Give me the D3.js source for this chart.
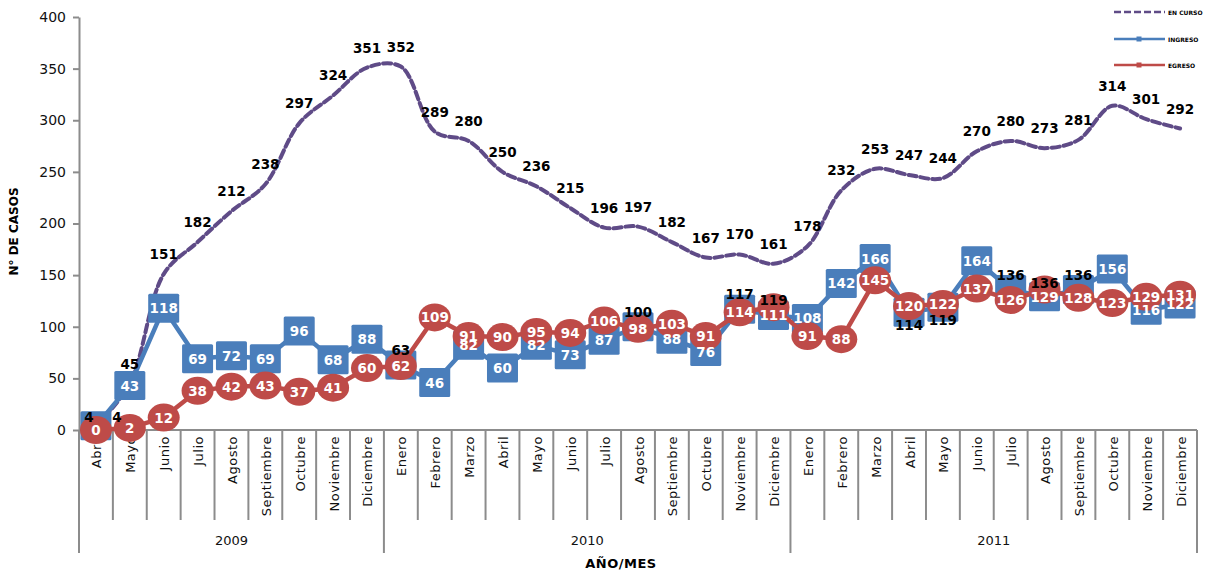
<!DOCTYPE html>
<html>
<head>
<meta charset="utf-8">
<script src="https://cdn.jsdelivr.net/npm/d3@7"></script>
<style>
  html, body { margin: 0; padding: 0; background: #fff; }
  svg { display: block; }
</style>
</head>
<body>
<svg id="chart" width="1212" height="571"></svg>
<script>
// Month / year categories
const years = ["2009", "2010", "2011"];
const months2009 = ["Abril", "Mayo", "Junio", "Julio", "Agosto", "Septiembre", "Octubre", "Noviembre", "Diciembre"];
const months2010 = ["Enero", "Febrero", "Marzo", "Abril", "Mayo", "Junio", "Julio", "Agosto", "Septiembre", "Octubre", "Noviembre", "Diciembre"];
const months2011 = ["Enero", "Febrero", "Marzo", "Abril", "Mayo", "Junio", "Julio", "Agosto", "Septiembre", "Octubre", "Noviembre", "Diciembre"];

// Series values, one per month
const enCurso = [4, 45, 151, 182, 212, 238, 297, 324, 351,
                 352, 289, 280, 250, 236, 215, 196, 197, 182, 167, 170, 161,
                 178, 232, 253, 247, 244, 270, 280, 273, 281, 314, 301, 292];
const ingreso = [4, 43, 118, 69, 72, 69, 96, 68, 88,
                 63, 46, 82, 60, 82, 73, 87, 100, 88, 76, 117, 111,
                 108, 142, 166, 114, 119, 164, 136, 129, 136, 156, 116, 122];
const egreso  = [0, 2, 12, 38, 42, 43, 37, 41, 60,
                 62, 109, 91, 90, 95, 94, 106, 98, 103, 91, 114, 119,
                 91, 88, 145, 120, 122, 137, 126, 136, 128, 123, 129, 131];

const yTicks = [0, 50, 100, 150, 200, 250, 300, 350, 400];
const seriesNames = ["EN CURSO", "INGRESO", "EGRESO"];

// Labels that sit outside their marker in black: index -> placement
const ingresoOuterLabels = { 0: "upleft", 9: "above", 16: "above", 19: "above", 24: "below", 25: "below", 27: "above", 29: "above" };
const egresoOuterLabels = { 20: "onTop", 28: "onTop" };

const monthGroups = [months2009, months2010, months2011];
const categories = monthGroups.flat();

const colors = { en: "#5f4b87", ing: "#4a7ebb", egr: "#be4b48", axis: "#8c8c8c" };
const labelFont = "'DejaVu Sans', Verdana, sans-serif";

const svg = d3.select("#chart");
const plotLeft = 79, plotRight = 1197, plotTop = 17, zeroY = 430;

const x = d3.scaleBand().domain(d3.range(categories.length)).range([plotLeft, plotRight]);
const y = d3.scaleLinear().domain([0, 400]).range([zeroY, plotTop]);
const cx = i => x(i) + x.bandwidth() / 2;

// Y axis
const yAxis = svg.append("g")
  .attr("transform", `translate(${plotLeft},0)`)
  .call(d3.axisLeft(y).tickValues(yTicks).tickSize(6).tickPadding(7).tickSizeOuter(0));
yAxis.select(".domain").attr("stroke", colors.axis).attr("stroke-width", 2);
yAxis.selectAll(".tick line").attr("stroke", colors.axis).attr("stroke-width", 2);
yAxis.selectAll(".tick text")
  .attr("font-family", labelFont).attr("font-size", 14).attr("fill", "#111");

svg.append("text")
  .attr("transform", `translate(18,${(plotTop + zeroY) / 2 + 8}) rotate(-90)`)
  .attr("text-anchor", "middle")
  .attr("font-family", labelFont).attr("font-weight", "bold").attr("font-size", 12)
  .text("N° DE CASOS");

// X axis: baseline, month cells, year cells
const g = svg.append("g");
g.append("line").attr("x1", plotLeft).attr("x2", plotRight).attr("y1", zeroY).attr("y2", zeroY)
  .attr("stroke", colors.axis).attr("stroke-width", 2);

const yearStart = [];
let acc = 0;
monthGroups.forEach(m => { yearStart.push(acc); acc += m.length; });
const isYearEdge = i => i === 0 || i === categories.length || yearStart.includes(i);

d3.range(categories.length + 1).forEach(i => {
  const px = i < categories.length ? x(i) : x(categories.length - 1) + x.bandwidth();
  g.append("line")
    .attr("x1", px).attr("x2", px)
    .attr("y1", zeroY).attr("y2", isYearEdge(i) ? 553 : 520)
    .attr("stroke", colors.axis).attr("stroke-width", 2);
});

g.selectAll("text.month").data(categories).join("text")
  .attr("class", "month")
  .attr("transform", (d, i) => `translate(${cx(i) + 1},436) rotate(-90)`)
  .attr("text-anchor", "end")
  .attr("dominant-baseline", "central")
  .attr("font-family", "'DejaVu Sans', sans-serif").attr("font-size", 13).attr("letter-spacing", 0.5)
  .attr("fill", "#111")
  .text(d => d);

years.forEach((yr, k) => {
  const a = x(yearStart[k]);
  const b = x(yearStart[k] + monthGroups[k].length - 1) + x.bandwidth();
  g.append("text")
    .attr("x", (a + b) / 2).attr("y", 545)
    .attr("text-anchor", "middle")
    .attr("font-family", "'DejaVu Sans', sans-serif").attr("font-size", 13).attr("fill", "#111")
    .text(yr);
});

svg.append("text")
  .attr("x", 621).attr("y", 568).attr("text-anchor", "middle")
  .attr("font-family", labelFont).attr("font-weight", "bold").attr("font-size", 13)
  .attr("letter-spacing", 0.5)
  .text("AÑO/MES");

// Series lines
const smooth = d3.line().x((d, i) => cx(i)).y(d => y(d)).curve(d3.curveCatmullRom.alpha(0.5));
const straight = d3.line().x((d, i) => cx(i)).y(d => y(d));

svg.append("path").attr("d", smooth(enCurso))
  .attr("fill", "none").attr("stroke", colors.en).attr("stroke-width", 4)
  .attr("stroke-dasharray", "8,4").attr("stroke-linecap", "round");

svg.append("path").attr("d", straight(ingreso))
  .attr("fill", "none").attr("stroke", colors.ing).attr("stroke-width", 4.5)
  .attr("stroke-linejoin", "round");

svg.selectAll("rect.ing").data(ingreso).join("rect")
  .attr("class", "ing")
  .attr("x", (d, i) => cx(i) - 15.5).attr("y", d => y(d) - 14.5)
  .attr("width", 31).attr("height", 29).attr("rx", 1.5)
  .attr("fill", colors.ing);

svg.append("path").attr("d", straight(egreso))
  .attr("fill", "none").attr("stroke", colors.egr).attr("stroke-width", 4.5)
  .attr("stroke-linejoin", "round");

svg.selectAll("ellipse.egr").data(egreso).join("ellipse")
  .attr("class", "egr")
  .attr("cx", (d, i) => cx(i)).attr("cy", d => y(d))
  .attr("rx", 16).attr("ry", 14)
  .attr("fill", colors.egr);

// Data labels
const labels = svg.append("g")
  .attr("font-family", labelFont).attr("font-weight", "bold").attr("font-size", 13.5)
  .attr("text-anchor", "middle").attr("dominant-baseline", "central");

const offsets = { above: [0, -15], below: [0, 13], upleft: [-7, -9], onTop: [0, -7] };

enCurso.forEach((v, i) => {
  const dx = i === 0 ? 21 : 0, dy = i === 0 ? -9 : -20;
  labels.append("text").attr("x", cx(i) + dx).attr("y", y(v) + dy).attr("fill", "#000").text(v);
});

ingreso.forEach((v, i) => {
  const place = ingresoOuterLabels[i];
  const [dx, dy] = place ? offsets[place] : [0, 0];
  labels.append("text").attr("x", cx(i) + dx).attr("y", y(v) + dy)
    .attr("fill", place ? "#000" : "#fff").text(v);
});

egreso.forEach((v, i) => {
  const place = egresoOuterLabels[i];
  const [dx, dy] = place ? offsets[place] : [0, 0];
  labels.append("text").attr("x", cx(i) + dx).attr("y", y(v) + dy)
    .attr("fill", place ? "#000" : "#fff").text(v);
});

// Legend
const legend = svg.append("g");
const legendRows = [
  { name: seriesNames[0], color: colors.en, dash: "7,3", marker: false, y: 12 },
  { name: seriesNames[1], color: colors.ing, dash: null, marker: true, y: 39 },
  { name: seriesNames[2], color: colors.egr, dash: null, marker: true, y: 65 }
];
legendRows.forEach(r => {
  legend.append("line").attr("x1", 1114).attr("x2", 1165).attr("y1", r.y).attr("y2", r.y)
    .attr("stroke", r.color).attr("stroke-width", 2.5)
    .attr("stroke-dasharray", r.dash);
  if (r.marker) {
    legend.append("rect").attr("x", 1136.5).attr("y", r.y - 2.5).attr("width", 5).attr("height", 5)
      .attr("fill", r.color);
  }
  legend.append("text").attr("x", 1168).attr("y", r.y).attr("dominant-baseline", "central")
    .attr("font-family", labelFont).attr("font-weight", "bold").attr("font-size", 6)
    .text(r.name);
});
</script>
</body>
</html>
